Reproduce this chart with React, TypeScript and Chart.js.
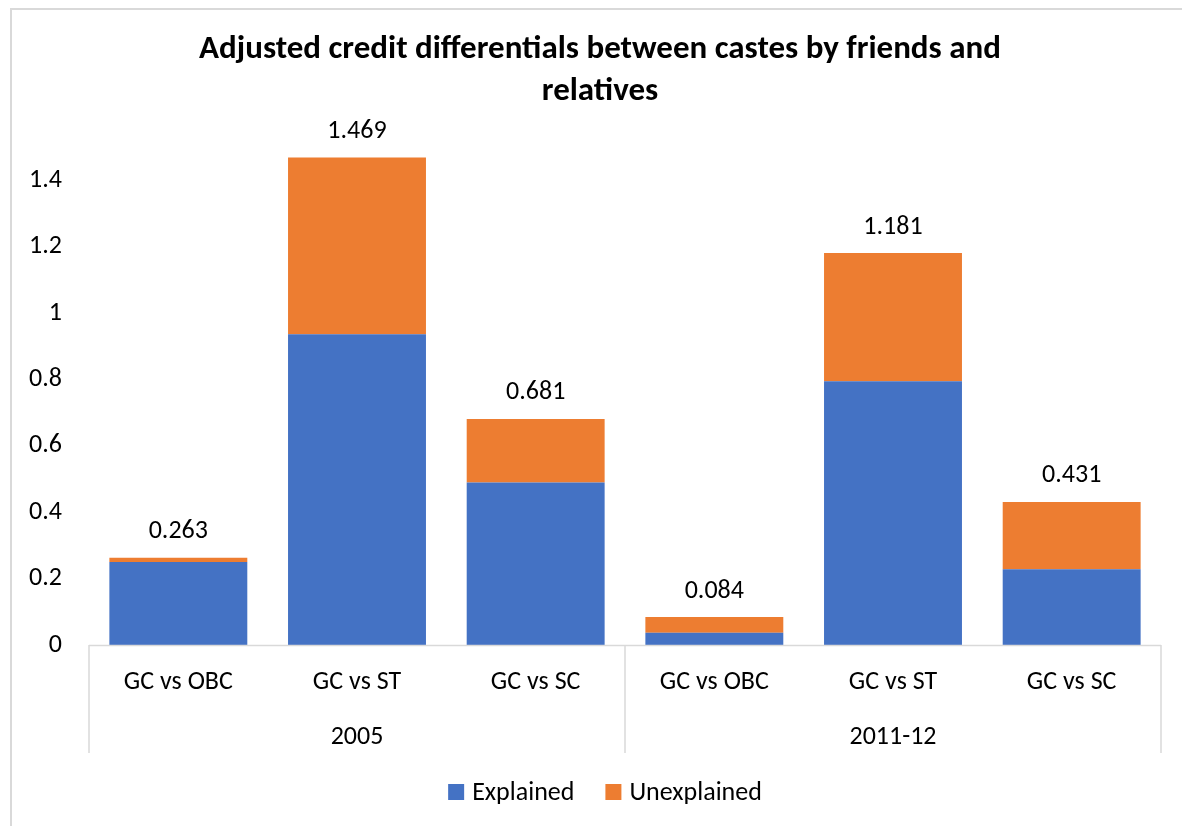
import React, { useEffect, useRef } from 'react';
import { Chart, registerables } from 'chart.js';

Chart.register(...registerables);

const TITLE_LINES = ['Adjusted credit differentials between castes by friends and', 'relatives'];
const CATEGORIES = ['GC vs OBC', 'GC vs ST', 'GC vs SC', 'GC vs OBC', 'GC vs ST', 'GC vs SC'];
const GROUPS = ['2005', '2011-12'];
const GROUP_SIZE = 3;
const SERIES_NAMES = ['Explained', 'Unexplained'];
const EXPLAINED = [0.25, 0.936, 0.49, 0.037, 0.795, 0.228];
const UNEXPLAINED = [0.013, 0.533, 0.191, 0.047, 0.386, 0.203];
const Y_MAX = 1.6;
const Y_STEP = 0.2;

const COLORS = ['#4472C4', '#ED7D31'];
const FONT = 'Carlito, Calibri, Lato, sans-serif';
const FS = 26;
const GRID = '#d9d9d9';

const decor = {
  id: 'decor',
  beforeDraw(chart: any) {
    const ctx = chart.ctx;
    ctx.save();
    ctx.fillStyle = '#ffffff';
    ctx.fillRect(0, 0, chart.width, chart.height);
    ctx.strokeStyle = GRID;
    ctx.lineWidth = 2;
    ctx.strokeRect(11, 9, chart.width + 40, chart.height + 40);
    ctx.restore();
  },
  afterDraw(chart: any) {
    const ctx = chart.ctx;
    const area = chart.chartArea;
    const x = chart.scales.x;
    ctx.save();

    // title
    ctx.fillStyle = '#000';
    ctx.font = `bold 33px ${FONT}`;
    ctx.textAlign = 'center';
    ctx.textBaseline = 'middle';
    TITLE_LINES.forEach((t, i) => ctx.fillText(t, 600, 50 + i * 42));

    // category axis box
    ctx.strokeStyle = GRID;
    ctx.lineWidth = 1.5;
    const boxBottom = 753;
    ctx.beginPath();
    ctx.moveTo(area.left, area.bottom + 0.5);
    ctx.lineTo(area.right, area.bottom + 0.5);
    const bounds: number[] = [area.left];
    for (let g = 1; g < GROUPS.length; g++) {
      const i = g * GROUP_SIZE;
      bounds.push((x.getPixelForValue(i - 1) + x.getPixelForValue(i)) / 2);
    }
    bounds.push(area.right);
    bounds.forEach((bx) => {
      ctx.moveTo(bx, area.bottom);
      ctx.lineTo(bx, boxBottom);
    });
    ctx.stroke();

    // group labels
    ctx.fillStyle = '#000';
    ctx.font = `${FS}px ${FONT}`;
    GROUPS.forEach((g, gi) => {
      const a = x.getPixelForValue(gi * GROUP_SIZE);
      const b = x.getPixelForValue(gi * GROUP_SIZE + GROUP_SIZE - 1);
      ctx.fillText(g, (a + b) / 2, 737);
    });

    // totals
    const lastMeta = chart.getDatasetMeta(chart.data.datasets.length - 1);
    lastMeta.data.forEach((bar: any, i: number) => {
      const total = chart.data.datasets.reduce((s: number, d: any) => s + d.data[i], 0);
      ctx.fillText(total.toFixed(3), bar.x, bar.y - 26);
    });

    // legend
    ctx.font = `${FS}px ${FONT}`;
    ctx.textAlign = 'left';
    const box = 16;
    const gap = 8;
    const itemGap = 31;
    const widths = chart.data.datasets.map((d: any) => box + gap + ctx.measureText(d.label).width);
    const totalW = widths.reduce((a: number, b: number) => a + b, 0) + itemGap * (widths.length - 1);
    let lx = 605 - totalW / 2;
    const ly = 792;
    chart.data.datasets.forEach((d: any, i: number) => {
      ctx.fillStyle = d.backgroundColor;
      ctx.fillRect(lx, ly - box / 2, box, box);
      ctx.fillStyle = '#000';
      ctx.fillText(d.label, lx + box + gap, ly + 1);
      lx += widths[i] + itemGap;
    });

    ctx.restore();
  },
};

export default function App() {
  const ref = useRef<HTMLCanvasElement | null>(null);
  useEffect(() => {
    if (!ref.current) return;
    const chart = new Chart(ref.current, {
      type: 'bar',
      data: {
        labels: CATEGORIES,
        datasets: [
          { label: SERIES_NAMES[0], data: EXPLAINED, backgroundColor: COLORS[0], borderWidth: 0 },
          { label: SERIES_NAMES[1], data: UNEXPLAINED, backgroundColor: COLORS[1], borderWidth: 0 },
        ],
      },
      options: {
        responsive: false,
        animation: false,
        layout: { padding: { left: 0, top: 114, right: 21, bottom: 0 } },
        datasets: { bar: { categoryPercentage: 1, barPercentage: 0.772 } },
        plugins: { legend: { display: false }, title: { display: false }, tooltip: { enabled: false } },
        scales: {
          x: {
            stacked: true,
            grid: { display: false, drawTicks: false },
            border: { display: false },
            ticks: { color: '#000', font: { family: FONT, size: FS }, padding: 22, maxRotation: 0, autoSkip: false },
            afterFit: (s: any) => { s.height = 181; },
          },
          y: {
            stacked: true,
            min: 0,
            max: Y_MAX,
            grid: { display: false, drawTicks: false },
            border: { display: false },
            ticks: {
              stepSize: Y_STEP,
              color: '#000',
              font: { family: FONT, size: FS },
              padding: 27,
              callback: (v: any) => (Math.abs(v - Y_MAX) < 1e-9 ? '' : String(Math.round(v * 10) / 10)),
            },
            afterFit: (s: any) => { s.width = 89; },
          },
        },
      },
      plugins: [decor],
    });
    return () => chart.destroy();
  }, []);
  return (
    <div style={{ position: 'fixed', left: 0, top: 0, width: 1182, height: 826, background: '#fff' }}>
      <canvas ref={ref} width={1182} height={826} />
    </div>
  );
}
